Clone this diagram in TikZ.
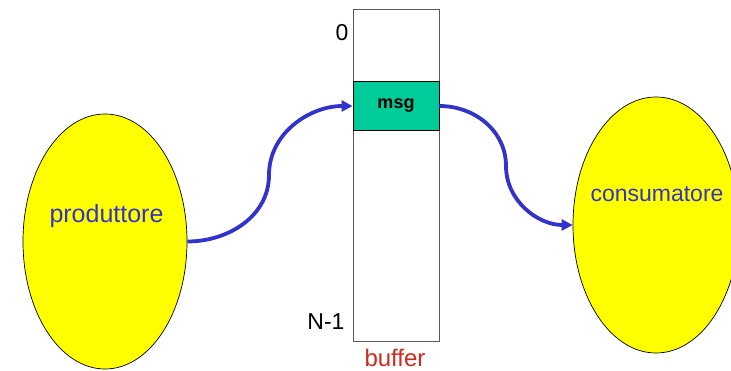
\documentclass[tikz,border=0pt]{standalone}
\usepackage{fontspec}
\setmainfont{Liberation Sans}
\usetikzlibrary{shapes.geometric,arrows.meta}
\definecolor{procyellow}{RGB}{255,255,0}
\definecolor{msggreen}{RGB}{0,204,153}
\definecolor{flowblue}{RGB}{51,51,204}
\definecolor{bufred}{RGB}{210,40,30}
\definecolor{bufgray}{RGB}{90,90,90}
\tikzset{
  process/.style={ellipse, draw=black, line width=0.7pt, fill=procyellow, inner sep=0pt},
  proclabel/.style={text=flowblue, inner sep=0pt},
  slotlabel/.style={text=black, font=\fontsize{23}{27}\selectfont, inner sep=0pt},
  bufbox/.style={rectangle, draw=bufgray, line width=0.8pt, fill=white, inner sep=0pt},
  msgbox/.style={rectangle, draw=black, line width=0.9pt, fill=msggreen, inner sep=0pt,
                 font=\bfseries\fontsize{18}{21}\selectfont},
  flow/.style={draw=flowblue, line width=3.8pt,
               -{Triangle[length=11pt,width=11pt]}},
}
\begin{document}
\begin{tikzpicture}[x=1pt,y=-1pt]
  \useasboundingbox (0,0) rectangle (731,371);
  % processes
  \node[process, minimum width=164pt, minimum height=255pt] (prod) at (105,241.5) {};
  \node[process, minimum width=166pt, minimum height=256pt] (cons) at (656,225) {};
  \node[proclabel, font=\fontsize{25}{29}\selectfont] (prodtxt) at (106.5,216) {produttore};
  \node[proclabel, font=\fontsize{23}{27}\selectfont] (constxt) at (657,194) {consumatore};
  % shared buffer
  \node[bufbox, minimum width=86pt, minimum height=332pt] (buf) at (396,175.5) {};
  \node[msgbox, minimum width=86pt, minimum height=49pt] (msg) at (396,106) {msg};
  \node[slotlabel] (first) at (342,33) {0};
  \node[slotlabel] (last) at (326,322) {N-1};
  \node[text=bufred, font=\fontsize{24}{28}\selectfont, inner sep=0pt] (bufname) at (395,357.5) {buffer};
  % message flow
  \coordinate (bendin) at (269,175);
  \coordinate (bendout) at (506,166);
  \draw[flow] (prod.east) to[out=0,in=-90] (bendin) to[out=90,in=180] (msg.west);
  \draw[flow] (msg.east) to[out=0,in=90] (bendout) to[out=-90,in=180] (cons.west);
\end{tikzpicture}
\end{document}
